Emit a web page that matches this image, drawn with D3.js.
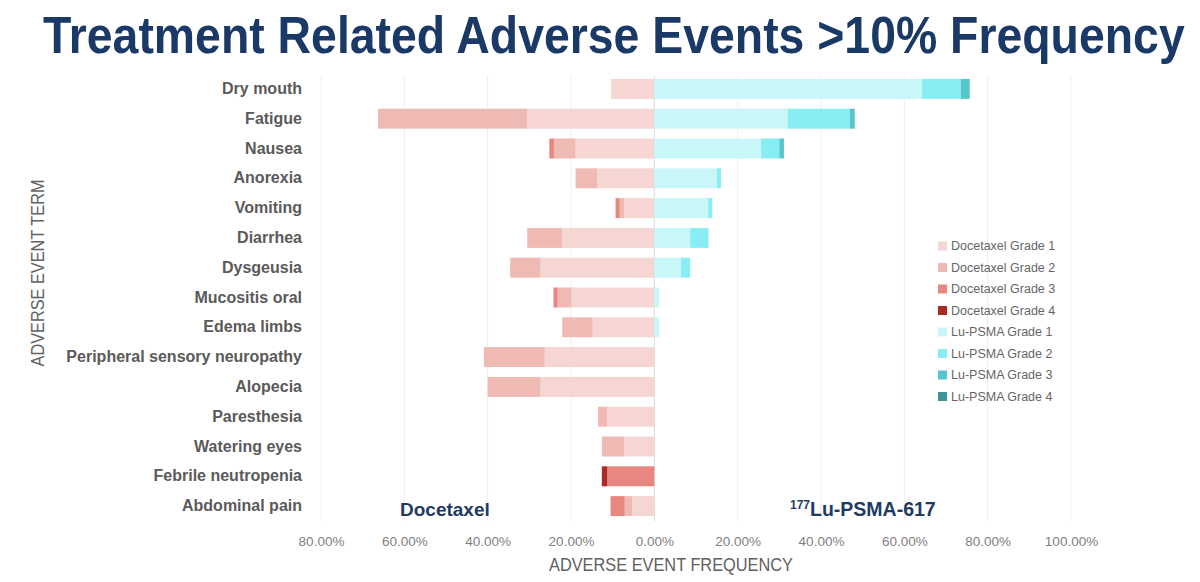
<!DOCTYPE html>
<html>
<head>
<meta charset="utf-8">
<script src="https://cdn.jsdelivr.net/npm/d3@7"></script>
<style>
  body { margin: 0; background: #fff; }
  text { font-family: "Liberation Sans", Arial, sans-serif; }
</style>
</head>
<body>
<div id="chart"></div>
<script>
// Categories (top to bottom)
const categories = ["Dry mouth", "Fatigue", "Nausea", "Anorexia", "Vomiting", "Diarrhea", "Dysgeusia",
    "Mucositis oral", "Edema limbs", "Peripheral sensory neuropathy", "Alopecia", "Paresthesia",
    "Watering eyes", "Febrile neutropenia", "Abdominal pain"];

// Docetaxel frequencies (%) by grade
const doceG1 = [10.4, 30.5, 18.9, 13.7, 7.2, 22.1, 27.3, 19.9, 14.8, 26.3, 27.3, 11.3, 7.2, 0, 5.3];
const doceG2 = [0, 35.8, 5.2, 5.2, 1.1, 8.4, 7.3, 3.3, 7.3, 14.6, 12.7, 2.2, 5.4, 0, 1.8];
const doceG3 = [0, 0, 1.1, 0, 1.0, 0, 0, 1.0, 0, 0, 0, 0, 0, 11.3, 3.4];
const doceG4 = [0, 0, 0, 0, 0, 0, 0, 0, 0, 0, 0, 0, 0, 1.3, 0];

// Lu-PSMA frequencies (%) by grade
const luG1 = [64.2, 32.0, 25.6, 15.0, 12.9, 8.6, 6.4, 1.2, 1.2, 0, 0, 0, 0, 0, 0];
const luG2 = [9.3, 14.9, 4.4, 1.0, 1.0, 4.4, 2.2, 0, 0, 0, 0, 0, 0, 0, 0];
const luG3 = [2.2, 1.2, 1.1, 0, 0, 0, 0, 0, 0, 0, 0, 0, 0, 0, 0];
const luG4 = [0, 0, 0, 0, 0, 0, 0, 0, 0, 0, 0, 0, 0, 0, 0];

const tickValues = [-80, -60, -40, -20, 0, 20, 40, 60, 80, 100];

const legendLabels = ["Docetaxel Grade 1", "Docetaxel Grade 2", "Docetaxel Grade 3", "Docetaxel Grade 4",
    "Lu-PSMA Grade 1", "Lu-PSMA Grade 2", "Lu-PSMA Grade 3", "Lu-PSMA Grade 4"];
const doceColors = ["#f6d6d3", "#efb9b4", "#e7877f", "#a82a22"];
const luColors = ["#c9f6f9", "#89eef3", "#55c6cb", "#3b9592"];

const width = 1200, height = 582;

const svg = d3.select("#chart")
    .append("svg")
    .attr("width", width)
    .attr("height", height);

// Scales
const x = d3.scaleLinear()
    .domain([-80, 100])
    .range([321, 1071]);

const y = d3.scaleBand()
    .domain(categories)
    .range([74, 521])
    .paddingInner(0.33)
    .paddingOuter(0.165);

// Gridlines
svg.append("g")
    .selectAll("line")
    .data(tickValues)
    .enter()
    .append("line")
    .attr("x1", d => x(d))
    .attr("x2", d => x(d))
    .attr("y1", 76)
    .attr("y2", 521)
    .attr("stroke", d => d === 0 ? "#d9d9d9" : "#efefef")
    .attr("stroke-width", 1);

// Build rows for stacking
const rows = categories.map((c, i) => ({
    term: c,
    doce: [doceG1[i], doceG2[i], doceG3[i], doceG4[i]],
    lu: [luG1[i], luG2[i], luG3[i], luG4[i]]
}));

const keys = [0, 1, 2, 3];
const doceStack = d3.stack().keys(keys).value((d, k) => d.doce[k])(rows);
const luStack = d3.stack().keys(keys).value((d, k) => d.lu[k])(rows);

// Docetaxel bars (drawn to the left)
svg.append("g")
    .selectAll("g")
    .data(doceStack)
    .enter()
    .append("g")
    .attr("fill", d => doceColors[d.key])
    .selectAll("rect")
    .data(d => d)
    .enter()
    .append("rect")
    .attr("x", d => x(-d[1]))
    .attr("y", d => y(d.data.term))
    .attr("width", d => x(-d[0]) - x(-d[1]))
    .attr("height", y.bandwidth());

// Lu-PSMA bars (drawn to the right)
svg.append("g")
    .selectAll("g")
    .data(luStack)
    .enter()
    .append("g")
    .attr("fill", d => luColors[d.key])
    .selectAll("rect")
    .data(d => d)
    .enter()
    .append("rect")
    .attr("x", d => x(d[0]))
    .attr("y", d => y(d.data.term))
    .attr("width", d => x(d[1]) - x(d[0]))
    .attr("height", y.bandwidth());

// X axis
const xAxis = d3.axisBottom(x)
    .tickValues(tickValues)
    .tickFormat(d => Math.abs(d).toFixed(2) + "%")
    .tickSize(0)
    .tickPadding(15);

const gx = svg.append("g")
    .attr("transform", "translate(0,521)")
    .call(xAxis);
gx.select(".domain").remove();
gx.selectAll("text")
    .style("font-family", "'Liberation Sans', Arial, sans-serif")
    .style("font-size", "13.5px")
    .style("fill", "#7f7f7f");

// Y axis
const yAxis = d3.axisLeft(y)
    .tickSize(0)
    .tickPadding(0);

const gy = svg.append("g")
    .attr("transform", "translate(302,0)")
    .call(yAxis);
gy.select(".domain").remove();
gy.selectAll("text")
    .style("font-family", "'Liberation Sans', Arial, sans-serif")
    .style("font-size", "16px")
    .style("font-weight", "bold")
    .style("fill", "#5a5a5a");

// Title: squeezed horizontally with a scale transform so it fits the width
const title = svg.append("text")
    .attr("x", 0)
    .attr("y", 0)
    .style("font-size", "52px")
    .style("font-weight", "bold")
    .style("fill", "#1b3966")
    .text("Treatment Related Adverse Events >10% Frequency");
const titleW = title.node().getComputedTextLength();
title.attr("transform", "translate(43,53) scale(" + (1142 / titleW) + ",1)");

// Axis titles
svg.append("text")
    .attr("transform", "translate(44,273) rotate(-90)")
    .attr("text-anchor", "middle")
    .attr("textLength", 187)
    .attr("lengthAdjust", "spacingAndGlyphs")
    .style("font-size", "18px")
    .style("fill", "#636363")
    .text("ADVERSE EVENT TERM");

svg.append("text")
    .attr("x", 671)
    .attr("y", 571)
    .attr("text-anchor", "middle")
    .attr("textLength", 244)
    .attr("lengthAdjust", "spacingAndGlyphs")
    .style("font-size", "19px")
    .style("fill", "#5f5f5f")
    .text("ADVERSE EVENT FREQUENCY");

// Treatment labels
svg.append("text")
    .attr("x", 400)
    .attr("y", 516)
    .style("font-size", "19px")
    .style("font-weight", "bold")
    .style("fill", "#1f3b63")
    .text("Docetaxel");

const lu = svg.append("text")
    .attr("x", 790)
    .attr("y", 516)
    .style("font-weight", "bold")
    .style("fill", "#1f3b63");
lu.append("tspan")
    .attr("dy", -7)
    .style("font-size", "12px")
    .text("177");
lu.append("tspan")
    .attr("dy", 7)
    .style("font-size", "19.5px")
    .text("Lu-PSMA-617");

// Legend
const legendColors = doceColors.concat(luColors);
const legend = svg.append("g")
    .selectAll("g")
    .data(legendLabels)
    .enter()
    .append("g")
    .attr("transform", (d, i) => "translate(938," + (246 + i * 21.5) + ")");

legend.append("rect")
    .attr("x", 0)
    .attr("y", -4.5)
    .attr("width", 9)
    .attr("height", 9)
    .attr("fill", (d, i) => legendColors[i]);

legend.append("text")
    .attr("x", 13)
    .attr("dy", "0.35em")
    .style("font-size", "12.5px")
    .style("fill", "#666")
    .text(d => d);
</script>
</body>
</html>
